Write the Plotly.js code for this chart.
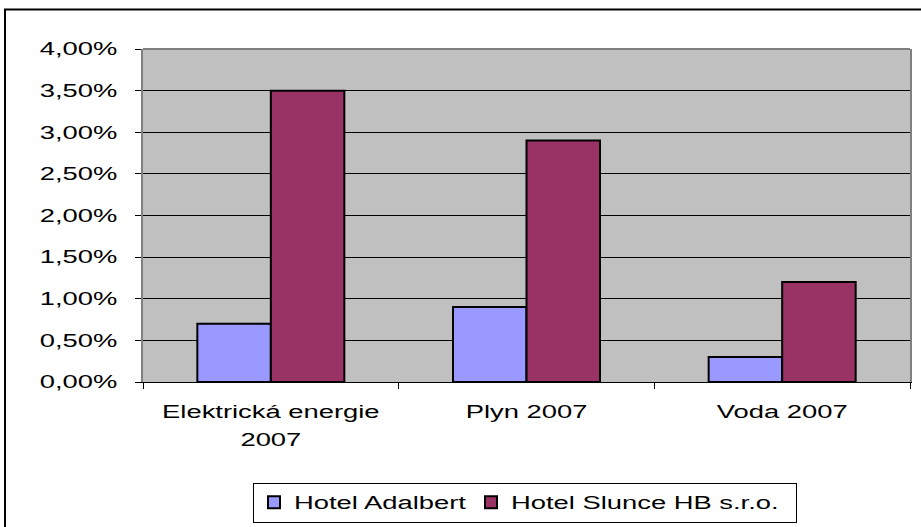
<!DOCTYPE html>
<html>
<head>
<meta charset="utf-8">
<script src="https://cdn.plot.ly/plotly-3.0.1.min.js"></script>
<style>
html,body{margin:0;padding:0;background:#fff;}
#chart{width:921px;height:527px;}
</style>
</head>
<body>
<div id="chart"></div>
<script>
var categories = ["Elektrická energie<br>2007", "Plyn 2007", "Voda 2007"];
var seriesNames = ["Hotel Adalbert", "Hotel Slunce HB s.r.o."];
var adalbert = [0.007, 0.009, 0.003];
var slunce = [0.035, 0.029, 0.012];
var yTicks = [0, 0.005, 0.01, 0.015, 0.02, 0.025, 0.03, 0.035, 0.04];

var font = {family: "Liberation Sans, Arial, sans-serif", size: 18, color: "#000"};

var traces = [
  {type: "bar", name: seriesNames[0], x: categories, y: adalbert,
   marker: {color: "#9999FF", line: {color: "#000", width: 2}}},
  {type: "bar", name: seriesNames[1], x: categories, y: slunce,
   marker: {color: "#993366", line: {color: "#000", width: 2}}}
];

var W = 767, H = 333;
function px(x){ return (x - 143) / W; }
function py(y){ return (382 - y) / H; }

var layout = {
  width: 921, height: 527,
  margin: {l: 143, r: 11, t: 49, b: 145, autoexpand: false},
  paper_bgcolor: "#fff",
  plot_bgcolor: "#C0C0C0",
  separators: ",.",
  barmode: "group",
  bargap: 0.425,
  bargroupgap: 0,
  font: font,
  showlegend: true,
  legend: {
    orientation: "h", x: px(253), xanchor: "left", y: py(483), yanchor: "top",
    bordercolor: "#000", borderwidth: 1, bgcolor: "#fff",
    font: font, traceorder: "normal", entrywidth: 172, entrywidthmode: "pixels"
  },
  xaxis: {
    type: "category", showgrid: false, showline: true, linecolor: "#000", linewidth: 1,
    ticks: "outside", tickson: "boundaries", ticklen: 6, tickcolor: "#000",
    tickfont: font, fixedrange: true, ticklabelstandoff: 13
  },
  yaxis: {
    range: [0, 0.04], tickvals: yTicks, tickformat: ".2%",
    showgrid: true, gridcolor: "#000", gridwidth: 1,
    showline: true, linecolor: "#808080", linewidth: 2, mirror: true,
    ticks: "outside", ticklen: 6, tickcolor: "#000",
    tickfont: font, zeroline: false, fixedrange: true, ticklabelstandoff: 14
  },
  shapes: [
    {type: "rect", xref: "paper", yref: "paper", x0: px(5), x1: px(930), y0: py(9.5), y1: py(540),
     line: {color: "#000", width: 2}, fillcolor: "rgba(0,0,0,0)", layer: "above"},
    {type: "line", xref: "paper", yref: "paper", x0: 0, x1: 1, y0: 1, y1: 1,
     line: {color: "#808080", width: 2}, layer: "above"}
  ]
};

Plotly.newPlot("chart", traces, layout, {displayModeBar: false, staticPlot: true}).then(function(gd){
  var stretch = 1.52;
  function fit(el){
    var L = el.getComputedTextLength();
    el.setAttribute("textLength", L * stretch);
    el.setAttribute("lengthAdjust", "spacingAndGlyphs");
  }
  gd.querySelectorAll(".xtick text, .ytick text, .legendtext").forEach(function(t){
    var spans = t.querySelectorAll("tspan.line");
    if (spans.length) {
      spans.forEach(function(s, i){
        fit(s);
        if (i > 0) s.setAttribute("dy", "1.55em");
      });
    } else {
      fit(t);
    }
  });
  var sb = gd.querySelector(".legend .scrollbox");
  if (sb) sb.removeAttribute("clip-path");
  var bg = gd.querySelector(".legend rect.bg");
  if (bg) { bg.setAttribute("width", 543); bg.setAttribute("height", 39); }
});
</script>
</body>
</html>
